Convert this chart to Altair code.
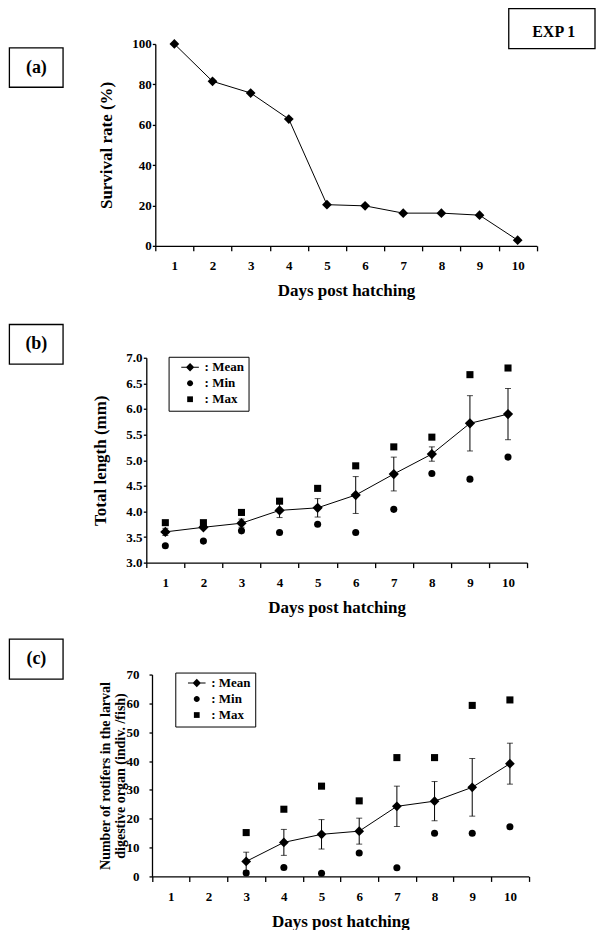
import altair as alt
import pandas as pd

FONT = "Liberation Serif"

# ---------------- data ----------------
days = [1, 2, 3, 4, 5, 6, 7, 8, 9, 10]

# (a) survival rate (%)
survival = [100, 81.5, 75.7, 62.8, 20.4, 19.8, 16.2, 16.2, 15.2, 2.8]

# (b) total length (mm)
tl_mean = [3.60, 3.69, 3.77, 4.02, 4.07, 4.32, 4.73, 5.12, 5.72, 5.90]
tl_sd = [0.07, 0.03, 0.08, 0.14, 0.18, 0.36, 0.33, 0.14, 0.54, 0.50]
tl_min = [3.33, 3.42, 3.62, 3.59, 3.75, 3.59, 4.04, 4.74, 4.63, 5.06]
tl_max = [3.78, 3.78, 3.98, 4.20, 4.45, 4.89, 5.26, 5.45, 6.67, 6.80]

# (c) number of rotifers in the digestive organ
rot_days = [3, 4, 5, 6, 7, 8, 9, 10]
rot_mean = [5.2, 11.8, 14.6, 15.7, 24.3, 26.1, 30.9, 39.1]
rot_sd = [3.2, 4.5, 5.1, 4.5, 7.0, 6.8, 10.0, 7.1]
rot_min = [1.2, 3.1, 1.1, 8.1, 3.0, 15.0, 15.0, 17.2]
rot_max = [15.2, 23.3, 31.3, 26.2, 41.2, 41.2, 59.3, 61.2]

series_names = ["Mean", "Min", "Max"]

# ---------------- tables ----------------
df_a = pd.DataFrame({"day": days, "value": survival})
df_b = pd.DataFrame({"day": days, "mean": tl_mean, "lo": [m - s for m, s in zip(tl_mean, tl_sd)],
                     "hi": [m + s for m, s in zip(tl_mean, tl_sd)], "min": tl_min, "max": tl_max})
df_c = pd.DataFrame({"day": rot_days, "mean": rot_mean, "lo": [m - s for m, s in zip(rot_mean, rot_sd)],
                     "hi": [m + s for m, s in zip(rot_mean, rot_sd)], "min": rot_min, "max": rot_max})
df_leg = pd.DataFrame({"series": series_names})
one = pd.DataFrame({"k": [0]})

# legend symbols (unit paths, fill only)
P_MEAN = "M-2.2,-0.13L2.2,-0.13L2.2,0.13L-2.2,0.13ZM-1.05,0L0,-1.05L1.05,0L0,1.05Z"
P_MIN = "M0.75,0A0.75,0.75,0,1,1,-0.75,0A0.75,0.75,0,1,1,0.75,0Z"
P_MAX = "M-0.72,-0.72L0.72,-0.72L0.72,0.72L-0.72,0.72Z"


def x_enc(rng):
    return alt.X(
        "day:O",
        scale=alt.Scale(type="band", domain=days, range=rng, paddingInner=0, paddingOuter=0),
        axis=alt.Axis(
            title="Days post hatching", titleFont=FONT, titleFontSize=17, titleFontWeight="bold",
            titleColor="black", titleY=45, titleBaseline="middle",
            labelFont=FONT, labelFontSize=13, labelFontWeight="bold", labelColor="black",
            labelAngle=0, labelPadding=9, tickSize=5, tickBand="extent", tickColor="black",
            tickWidth=1.3, domainColor="black", domainWidth=1.3, grid=False, labelOverlap=False,
        ),
    )


def y_axis(title, values, fmt, offset, title_x, label_pad, title_size=17, line_h=None):
    kw = dict(
        title=title, titleFont=FONT, titleFontSize=title_size, titleFontWeight="bold",
        titleColor="black", titleX=title_x, titleBaseline="middle", titleAngle=270,
        labelFont=FONT, labelFontSize=13, labelFontWeight="bold", labelColor="black",
        labelPadding=label_pad, tickSize=3, tickColor="black", tickWidth=1.3,
        domainColor="black", domainWidth=1.3, grid=False, values=values, format=fmt,
        offset=offset, labelOverlap=False, labelFlush=False,
    )
    if line_h:
        kw["titleLineHeight"] = line_h
    return alt.Axis(**kw)


def label_box(text, y0, y1):
    box = alt.Chart(one).mark_rect(fillOpacity=0, stroke="black", strokeWidth=1.3).encode(
        x=alt.value(-137), x2=alt.value(-83.3), y=alt.value(y0), y2=alt.value(y1))
    txt = alt.Chart(one).mark_text(text=text, font=FONT, fontSize=18, fontWeight="bold",
                                   color="black", align="center", baseline="middle").encode(
        x=alt.value(-110), y=alt.value((y0 + y1) / 2))
    return box + txt


def legend_layer(lx, ly):
    return alt.Chart(df_leg).transform_filter("datum.series == 'none'").mark_point(
        filled=True, opacity=1, color="black").encode(
        shape=alt.Shape(
            "series:N",
            scale=alt.Scale(domain=series_names, range=[P_MEAN, P_MIN, P_MAX]),
            legend=alt.Legend(
                title=None, orient="none", legendX=lx, legendY=ly, direction="vertical",
                symbolSize=64, symbolOffset=11, symbolFillColor="black",
                labelExpr="': ' + datum.label", labelFont=FONT,
                labelFontSize=13, labelFontWeight="bold", labelColor="black", labelOffset=8,
                rowPadding=2, padding=4, strokeColor="black",
            ),
        )
    )


# ---------------- panel (a) ----------------
ya = alt.Y("value:Q", scale=alt.Scale(domain=[0, 100], nice=False),
           axis=y_axis("Survival rate (%)", [0, 20, 40, 60, 80, 100], "d", -9, -49, 1))
xa = x_enc([9, 390.7])
base_a = alt.Chart(df_a).encode(x=xa, y=ya)
line_a = base_a.mark_line(color="black", strokeWidth=1)
pts_a = base_a.mark_point(shape="diamond", filled=True, color="black", size=95, opacity=1)
exp_box = alt.Chart(one).mark_rect(fillOpacity=0, stroke="black", strokeWidth=1.3).encode(
    x=alt.value(362.7), x2=alt.value(449), y=alt.value(-35.4), y2=alt.value(4.6))
exp_txt = alt.Chart(one).mark_text(text="EXP 1", font=FONT, fontSize=16, fontWeight="bold",
                                   color="black", align="center", baseline="middle").encode(
    x=alt.value(407.7), y=alt.value(-12))
panel_a = alt.layer(line_a, pts_a, label_box("(a)", 4, 43.3), exp_box, exp_txt).properties(
    width=391, height=202)


def stats_panel(df, x, y_ax, yscale, d_size, lx, ly, tag, ty0, ty1, w, h):
    def Y(field):
        return alt.Y(field, type="quantitative", scale=yscale, axis=y_ax)
    base = alt.Chart(df).encode(x=x)
    err = base.mark_rule(color="black", strokeWidth=1).encode(y=Y("lo"), y2="hi:Q")
    cap_lo = base.mark_tick(color="black", thickness=1, size=6).encode(y=Y("lo"))
    cap_hi = base.mark_tick(color="black", thickness=1, size=6).encode(y=Y("hi"))
    line = base.mark_line(color="black", strokeWidth=1).encode(y=Y("mean"))
    mean = base.mark_point(shape="diamond", filled=True, color="black", size=d_size, opacity=1).encode(y=Y("mean"))
    mn = base.mark_point(shape="circle", filled=True, color="black", size=50, opacity=1).encode(y=Y("min"))
    mx = base.mark_point(shape="square", filled=True, color="black", size=50, opacity=1).encode(y=Y("max"))
    return alt.layer(err, cap_lo, cap_hi, line, mean, mn, mx, legend_layer(lx, ly),
                     label_box(tag, ty0, ty1)).properties(width=w, height=h)


# ---------------- panel (b) ----------------
yb_axis = y_axis("Total length (mm)", [3.0, 3.5, 4.0, 4.5, 5.0, 5.5, 6.0, 6.5, 7.0], ".1f", 0, -46, 1.3)
panel_b = stats_panel(df_b, x_enc([0, 381]), yb_axis, alt.Scale(domain=[3, 7], nice=False), 105,
                      22.3, -1, "(b)", -33.3, 6.3, 381, 205)

# ---------------- panel (c) ----------------
yc_axis = y_axis(["Number of rotifers in the larval", "digestive organ (indiv. /fish)"],
                 [0, 10, 20, 30, 40, 50, 60, 70], "d", -5.7, -47, 10, title_size=14, line_h=15.6)
panel_c = stats_panel(df_c, x_enc([5.7, 382.7]), yc_axis, alt.Scale(domain=[0, 70], nice=False), 95,
                      29, -2, "(c)", -35.4, 4.6, 383, 202)

chart = alt.vconcat(panel_a, panel_b, panel_c, spacing=112, bounds="flush").resolve_scale(
    shape="independent").properties(
    padding={"left": 8.4, "top": 6.7, "right": 0, "bottom": 0},
    background="white",
).configure_view(stroke=None)

chart.save("out.html", embed_options={"renderer": "svg", "actions": False})
